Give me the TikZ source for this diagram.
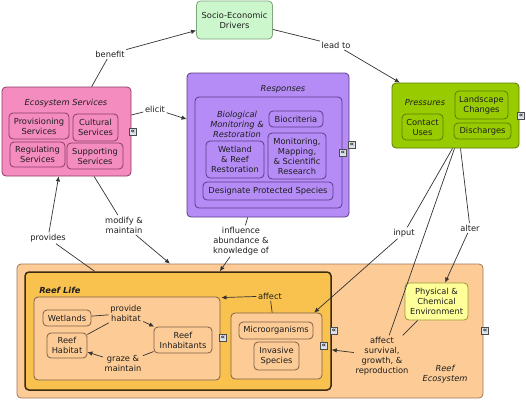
\documentclass[tikz,border=0pt]{standalone}
\usepackage{fontspec}
\setmainfont{DejaVu Sans}
\usetikzlibrary{arrows.meta}
\definecolor{txt}{HTML}{1E1E1E}
\definecolor{linkc}{HTML}{333333}
\definecolor{socioF}{HTML}{CCF7CC}\definecolor{socioD}{HTML}{7FA67F}
\definecolor{esF}{HTML}{F48CC0}\definecolor{esD}{HTML}{8C3B64}
\definecolor{respF}{HTML}{B58CF5}\definecolor{respD}{HTML}{5B3A8A}
\definecolor{presF}{HTML}{99CC00}\definecolor{presD}{HTML}{5C7A00}
\definecolor{ecoF}{HTML}{FCCB96}\definecolor{ecoD}{HTML}{A0785A}
\definecolor{lifeF}{HTML}{F9C24E}\definecolor{lifeD}{HTML}{3B2B10}
\definecolor{physF}{HTML}{FFFF99}\definecolor{physD}{HTML}{9A9A33}
\definecolor{iconF}{HTML}{DCE3EC}
\begin{document}
\begin{tikzpicture}[x=1pt,y=-1pt,
  font=\fontsize{8.3}{10}\selectfont, text=txt,
  box/.style={draw, rounded corners=4pt, align=center, inner sep=1pt, line width=0.8pt},
  lbl/.style={align=center, inner sep=1.5pt},
  ttl/.style={align=center, inner sep=0pt, font=\fontsize{8.3}{10}\selectfont\itshape},
  link/.style={draw=linkc, line width=0.7pt},
  arr/.style={link, -{Latex[length=5pt,width=4.5pt]}},
  icon/.style={draw=gray!60!black, fill=iconF, minimum size=7pt, inner sep=0pt, line width=0.5pt, font=\fontsize{7}{7}\selectfont\bfseries}
]
\useasboundingbox[fill=white] (0,0) rectangle (526,400);

% ---------- Socio-Economic Drivers ----------
\node[box, fill=socioF, draw=socioD, minimum width=76pt, minimum height=38pt] (socio) at (234.5,20) {Socio-Economic\\Drivers};

% ---------- Ecosystem Services ----------
\node[box, fill=esF, draw=esD, minimum width=129pt, minimum height=89pt] (es) at (66.5,131.5) {};
\node[ttl] (esT) at (66,103) {Ecosystem Services};
\node[box, fill=esF, draw=esD, minimum width=60pt, minimum height=26pt] (prov) at (39,126) {Provisioning\\Services};
\node[box, fill=esF, draw=esD, minimum width=45pt, minimum height=27pt] (cult) at (95.5,127.5) {Cultural\\Services};
\node[box, fill=esF, draw=esD, minimum width=55pt, minimum height=25pt] (reg) at (37.5,154.5) {Regulating\\Services};
\node[box, fill=esF, draw=esD, minimum width=56pt, minimum height=26pt] (sup) at (95,156) {Supporting\\Services};
\node[icon] (icES) at (133,132) {«};

% ---------- Responses ----------
\node[box, fill=respF, draw=respD, minimum width=162pt, minimum height=144pt] (resp) at (268,145) {};
\node[ttl] (respT) at (283,89) {Responses};
\node[box, fill=respF, draw=respD, minimum width=147pt, minimum height=111pt] (bio) at (268.5,152.5) {};
\node[ttl] (bioT) at (237,124) {Biological\\Monitoring \&\\Restoration};
\node[box, fill=respF, draw=respD, minimum width=54pt, minimum height=16pt] (biocrit) at (296,119) {Biocriteria};
\node[box, fill=respF, draw=respD, minimum width=58pt, minimum height=37pt] (wetrest) at (235,159.5) {Wetland\\\& Reef\\Restoration};
\node[box, fill=respF, draw=respD, minimum width=58pt, minimum height=46pt] (monit) at (297,156) {Monitoring,\\Mapping,\\\& Scientific\\Research};
\node[box, fill=respF, draw=respD, minimum width=130pt, minimum height=18pt] (desig) at (268,191) {Designate Protected Species};
\node[icon] (icR1) at (352,145) {«};
\node[icon] (icR2) at (343,153) {«};

% ---------- Pressures ----------
\node[box, fill=presF, draw=presD, minimum width=127pt, minimum height=65pt] (pres) at (455.5,115.5) {};
\node[ttl] (presT) at (425,103) {Pressures};
\node[box, fill=presF, draw=presD, minimum width=53pt, minimum height=28pt] (land) at (481.5,105) {Landscape\\Changes};
\node[box, fill=presF, draw=presD, minimum width=41pt, minimum height=26pt] (contact) at (422.5,127) {Contact\\Uses};
\node[box, fill=presF, draw=presD, minimum width=57pt, minimum height=16pt] (disch) at (482.5,131) {Discharges};
\node[icon] (icP) at (521,116) {«};

% ---------- Reef Ecosystem ----------
\node[box, fill=ecoF, draw=ecoD, minimum width=466pt, minimum height=134pt] (reefeco) at (250,331) {};
\node[ttl] (ecoT) at (445,374) {Reef\\Ecosystem};
\node[icon] (icE) at (485,331) {«};
\node[box, fill=lifeF, draw=lifeD, line width=1.5pt, minimum width=306pt, minimum height=118pt] (reeflife) at (178,331) {};
\node[ttl, font=\fontsize{8.3}{10}\selectfont\bfseries\itshape] (lifeT) at (60,290) {Reef Life};
\node[box, fill=ecoF, draw=ecoD!80!black, minimum width=186pt, minimum height=83pt] (leftg) at (127,338.5) {};
\node[box, fill=ecoF, draw=ecoD!80!black, minimum width=48pt, minimum height=16pt] (wetlands) at (67,318) {Wetlands};
\node[box, fill=ecoF, draw=ecoD!80!black, minimum width=40pt, minimum height=25pt] (reefhab) at (67,345.5) {Reef\\Habitat};
\node[box, fill=ecoF, draw=ecoD!80!black, minimum width=58pt, minimum height=26pt] (reefinh) at (183,340) {Reef\\Inhabitants};
\node[lbl] (provide) at (126,313.5) {provide\\habitat};
\node[lbl] (graze) at (123,363.5) {graze \&\\maintain};
\node[icon] (icL) at (223,338) {«};
\node[box, fill=ecoF, draw=ecoD!80!black, minimum width=91pt, minimum height=66pt] (mgroup) at (276.5,346) {};
\node[box, fill=ecoF, draw=ecoD!80!black, minimum width=74pt, minimum height=17pt] (micro) at (276,330.5) {Microorganisms};
\node[box, fill=ecoF, draw=ecoD!80!black, minimum width=45pt, minimum height=28pt] (invasive) at (276.5,356) {Invasive\\Species};
\node[icon] (icM1) at (334,331) {«};
\node[icon] (icM2) at (324,346) {«};
\node[lbl] (affect) at (270,296) {affect};
\node[box, fill=physF, draw=physD, minimum width=63pt, minimum height=37pt] (phys) at (436.5,301.5) {Physical \&\\Chemical\\Environment};
\node[lbl] (affsurv) at (382,356) {affect\\survival,\\growth, \&\\reproduction};

% ---------- link labels ----------
\node[lbl] (benefit) at (110,54) {benefit};
\node[lbl] (leadto) at (336,45) {lead to};
\node[lbl] (elicit) at (155,109) {elicit};
\node[lbl] (modify) at (124,225) {modify \&\\maintain};
\node[lbl] (provides) at (48,238) {provides};
\node[lbl] (influence) at (241,241) {influence\\abundance \&\\knowledge of};
\node[lbl] (input) at (404,233) {input};
\node[lbl] (alter) at (470,228) {alter};

% ---------- connectors ----------
\draw[link] (es) -- (benefit);
\draw[arr] (benefit) -- (socio);
\draw[link] (socio) -- (leadto);
\draw[arr] (leadto) -- (pres);
\draw[link] (es) -- (elicit);
\draw[arr] (elicit) -- (resp);
\draw[link] (es) -- (modify);
\draw[arr] (modify) -- (reefeco);
\draw[link] (reeflife) -- (provides);
\draw[arr] (provides) -- (es);
\draw[link] (resp) -- (influence);
\draw[arr] (influence) -- (reeflife);
\draw[link] ([xshift=-3pt]pres.south) -- (input);
\draw[arr] (input) -- (mgroup);
\draw[link] ([xshift=5pt]pres.south) -- (alter);
\draw[arr] (alter) -- (phys);
\draw[link] ([xshift=-1pt]pres.south) -- (affsurv);
\draw[link] (phys) -- (affsurv);
\draw[arr] (affsurv) -- (reeflife);
\draw[link] (mgroup) -- (affect);
\draw[arr] (affect) -- ([xshift=1pt,yshift=-1pt]leftg.north east);
\draw[link] (wetlands) -- (provide);
\draw[link] (reefhab) -- (provide);
\draw[arr] (provide) -- (reefinh);
\draw[link] (reefinh) -- (graze);
\draw[arr] (graze) -- (reefhab);
\end{tikzpicture}
\end{document}
